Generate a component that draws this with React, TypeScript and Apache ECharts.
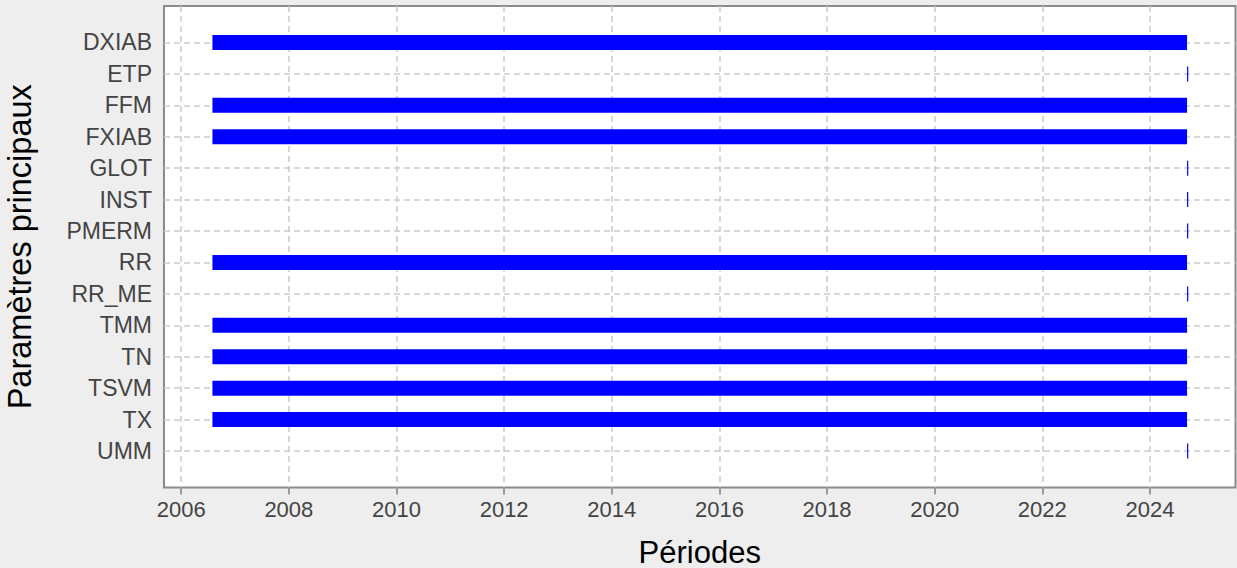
import React, { useEffect, useRef } from "react";
import * as echarts from "echarts";

const categories = [
  "DXIAB", "ETP", "FFM", "FXIAB", "GLOT", "INST", "PMERM",
  "RR", "RR_ME", "TMM", "TN", "TSVM", "TX", "UMM",
];
const startYears = [
  2006.58, 2024.69, 2006.58, 2006.58, 2024.69, 2024.69, 2024.69,
  2006.58, 2024.69, 2006.58, 2006.58, 2006.58, 2006.58, 2024.69,
];
const endYears = [
  2024.69, 2024.69, 2024.69, 2024.69, 2024.69, 2024.69, 2024.69,
  2024.69, 2024.69, 2024.69, 2024.69, 2024.69, 2024.69, 2024.69,
];
const xTicks = [2006, 2008, 2010, 2012, 2014, 2016, 2018, 2020, 2022, 2024];
const yTicks = categories.map((_, i) => i);

const FONT = "'Liberation Sans', Arial, sans-serif";

export default function App() {
  const ref = useRef<HTMLDivElement>(null);
  useEffect(() => {
    document.body.style.margin = "0";
    document.body.style.background = "#eeeeee";
    const chart = echarts.init(ref.current!, null, { renderer: "svg" });
    const data = categories.map((c, i) => [i, startYears[i], endYears[i]]);
    chart.setOption({
      animation: false,
      backgroundColor: "#eeeeee",
      textStyle: { fontFamily: FONT },
      grid: {
        left: 164,
        top: 6,
        right: 1.5,
        bottom: 80.5,
        containLabel: false,
        outerBoundsMode: "none",
        show: true,
        backgroundColor: "#ffffff",
        borderColor: "#8a8a8a",
        borderWidth: 2,
      },
      xAxis: {
        type: "value",
        min: 2005.68,
        max: 2025.59,
        name: "Périodes",
        nameLocation: "middle",
        nameGap: 49,
        nameTextStyle: { fontSize: 31, lineHeight: 31, color: "#000", fontFamily: FONT },
        axisLine: { show: false, onZero: false },
        axisTick: {
          show: true,
          customValues: xTicks,
          length: 7,
          lineStyle: { color: "#9a9a9a", width: 2 },
        },
        axisLabel: {
          customValues: xTicks,
          fontSize: 22,
          color: "#444444",
          margin: 11,
          fontFamily: FONT,
          formatter: (v: number) => String(v),
        },
        splitLine: {
          show: true,
          lineStyle: { color: "#cccccc", width: 1.5, type: [6, 4] },
        },
      },
      yAxis: {
        type: "value",
        inverse: true,
        min: -1.16,
        max: 14.16,
        name: "Paramètres principaux",
        nameLocation: "middle",
        nameGap: 128,
        nameTextStyle: { fontSize: 32.5, color: "#000", fontFamily: FONT },
        axisLine: { show: false, onZero: false },
        axisTick: { show: false, customValues: yTicks },
        axisLabel: {
          customValues: yTicks,
          fontSize: 23,
          color: "#444444",
          margin: 12,
          fontFamily: FONT,
          formatter: (v: number) => categories[Math.round(v)] ?? "",
        },
        splitLine: {
          show: true,
          lineStyle: { color: "#cccccc", width: 1.5, type: [6, 4] },
        },
      },
      series: [
        {
          type: "custom",
          data,
          encode: { x: [1, 2], y: 0 },
          renderItem: (params: any, api: any) => {
            const idx = api.value(0);
            const p1 = api.coord([api.value(1), idx]);
            const p2 = api.coord([api.value(2), idx]);
            const h = 15;
            const w = Math.max(1.2, p2[0] - p1[0]);
            return {
              type: "rect",
              shape: { x: p1[0], y: p1[1] - h / 2, width: w, height: h },
              style: { fill: "#0000ff" },
            };
          },
        },
      ],
    });
    return () => chart.dispose();
  }, []);
  return <div ref={ref} style={{ width: 1237, height: 568 }} />;
}
